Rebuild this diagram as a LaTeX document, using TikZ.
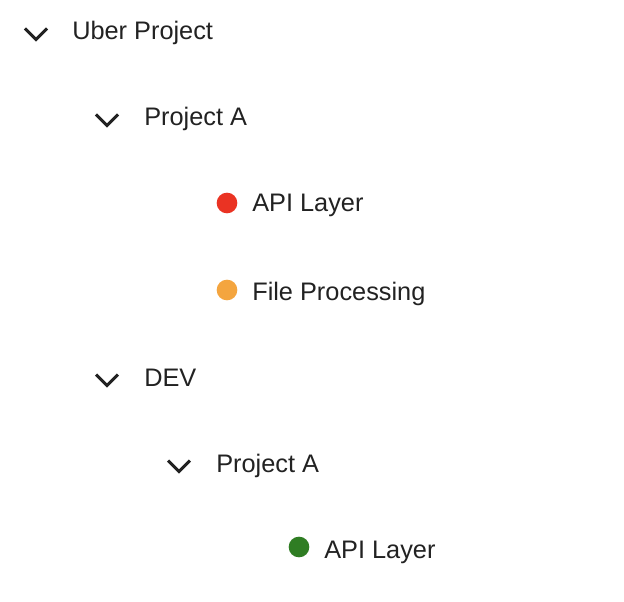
\documentclass[tikz,border=0pt]{standalone}
\usepackage{fontspec}
\setmainfont{Liberation Sans}
\definecolor{txt}{HTML}{222222}
\definecolor{dotred}{HTML}{EA3323}
\definecolor{dotorange}{HTML}{F4A53F}
\definecolor{dotgreen}{HTML}{2F7D23}
\tikzset{
  lbl/.style={anchor=base west, inner sep=0pt, text=txt, font=\fontsize{19pt}{23pt}\selectfont},
  chev/.style={draw=txt, line width=2.2pt, line join=miter, line cap=butt},
  dotmark/.style={circle, inner sep=0pt, minimum size=15.5pt}
}
\newcommand{\chevron}[2]{\draw[chev] (#1-11,#2-5.5) -- (#1,#2+5.5) -- (#1+11,#2-5.5);}
\begin{document}
\begin{tikzpicture}[x=0.75pt,y=-0.75pt]
\useasboundingbox (0,0) rectangle (624,602);
% row 1
\chevron{36}{34}
\node[lbl] (uber) at (72,40) {Uber Project};
% row 2
\chevron{107}{120}
\node[lbl] (pa1) at (144,126) {Project A};
% row 3
\node[dotmark, fill=dotred] (d1) at (227,203) {};
\node[lbl] (api1) at (252,212) {API Layer};
% row 4
\node[dotmark, fill=dotorange] (d2) at (227,290) {};
\node[lbl] (fp) at (252,300) {File Processing};
% row 5
\chevron{107}{380}
\node[lbl] (dev) at (144,386) {DEV};
% row 6
\chevron{179}{466}
\node[lbl] (pa2) at (216,472) {Project A};
% row 7
\node[dotmark, fill=dotgreen] (d3) at (299,547) {};
\node[lbl] (api2) at (324,558) {API Layer};
\end{tikzpicture}
\end{document}
